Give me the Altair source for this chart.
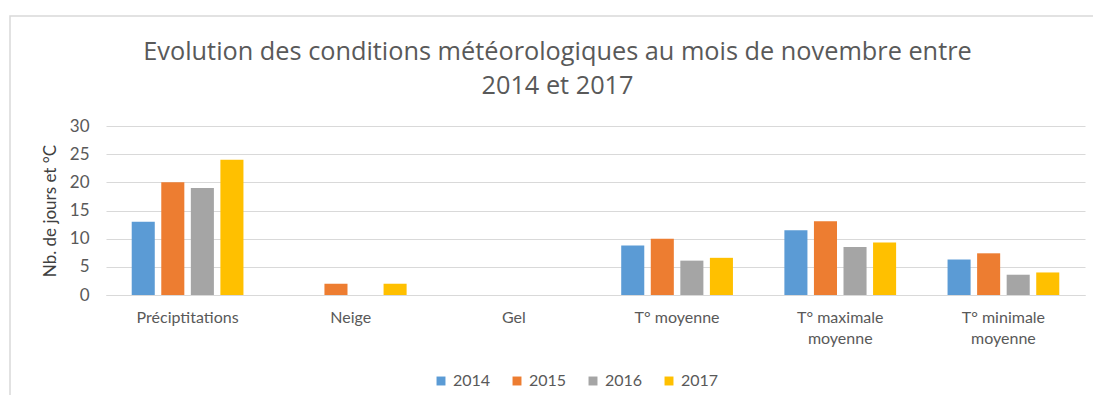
import altair as alt
import pandas as pd

categories = ["Préciptitations", "Neige", "Gel", "T° moyenne", "T° maximale moyenne", "T° minimale moyenne"]
years = ["2014", "2015", "2016", "2017"]
v2014 = [13, 0, 0, 8.8, 11.5, 6.3]
v2015 = [20, 2, 0, 10.0, 13.1, 7.4]
v2016 = [19, 0, 0, 6.1, 8.5, 3.6]
v2017 = [24, 2, 0, 6.6, 9.3, 4.0]
colors = ["#5b9bd5", "#ed7d31", "#a5a5a5", "#ffc000"]

rows = []
for y, vals in zip(years, [v2014, v2015, v2016, v2017]):
    for c, v in zip(categories, vals):
        rows.append({"cat": c, "year": y, "val": v})
df = pd.DataFrame(rows)

LBL = "Lato"
GREY = "#595959"

bars = alt.Chart(df).mark_bar().encode(
    x=alt.X("cat:N", sort=categories, title=None,
            scale=alt.Scale(paddingInner=0, paddingOuter=0),
            axis=alt.Axis(labelAngle=0, ticks=False, domainColor="#d9d9d9", grid=False,
                          labelFont=LBL, labelFontSize=16, labelColor=GREY, labelPadding=14,
                          labelLineHeight=21,
                          labelExpr="indexof(datum.label, ' moyenne') > 2 ? [replace(datum.label, ' moyenne', ''), 'moyenne'] : datum.label")),
    xOffset=alt.XOffset("year:N", sort=years,
                        scale=alt.Scale(paddingInner=0.22, paddingOuter=0.87)),
    y=alt.Y("val:Q", title="Nb. de jours et °C",
            scale=alt.Scale(domain=[0, 30], nice=False),
            axis=alt.Axis(values=[0, 5, 10, 15, 20, 25, 30], domain=False, ticks=False,
                          gridColor="#d9d9d9", gridWidth=1,
                          labelFont=LBL, labelFontSize=17, labelColor=GREY, labelPadding=17,
                          titleFont=LBL, titleFontSize=17, titleColor="#404040",
                          titleFontWeight="normal", titlePadding=10)),
    color=alt.Color("year:N", sort=years, title=None,
                    scale=alt.Scale(domain=years, range=colors),
                    legend=alt.Legend(orient="none", legendX=327, legendY=247, direction="horizontal",
                                      symbolType="square", symbolSize=80, symbolStrokeWidth=0,
                                      labelFont=LBL, labelFontSize=16, labelColor=GREY,
                                      columnPadding=18, labelOffset=4, padding=0)),
)

border = alt.Chart(alt.Data(values=[{"a": 0}])).mark_rect(
    fill=None, stroke="#d9d9d9", strokeWidth=1.5
).encode(x=alt.value(-96), y=alt.value(-110), x2=alt.value(1100), y2=alt.value(400))

chart = alt.layer(border, bars).properties(
    width=979, height=169,
    title=alt.Title(["Evolution des conditions météorologiques au mois de novembre entre", "2014 et 2017"],
                    font="Open Sans", fontSize=25.3, fontWeight="normal", color=GREY,
                    lineHeight=34, offset=-84, dx=-38, anchor="middle"),
    autosize=alt.AutoSizeParams(type="none"),
    padding={"left": 98, "top": 118, "right": 8, "bottom": 100},
).configure_view(stroke=None)

chart.save("out.html", embed_options={"renderer": "svg", "actions": False})
